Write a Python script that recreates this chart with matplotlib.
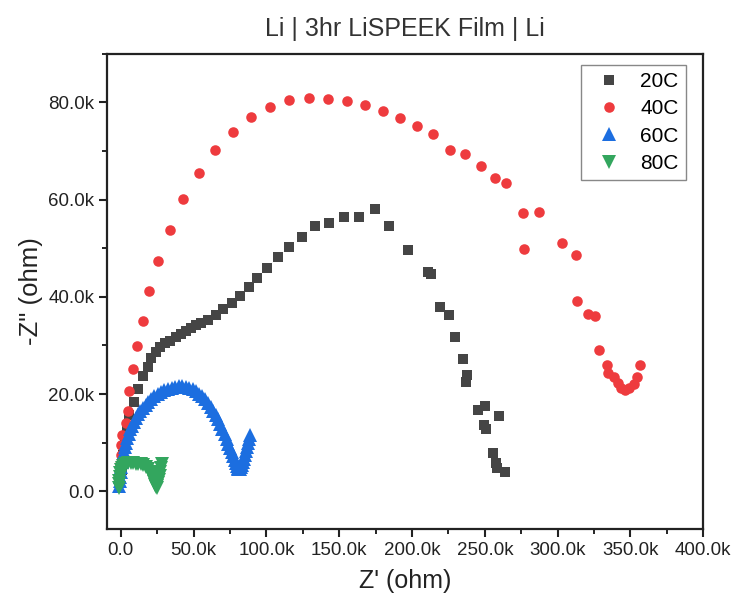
"""Nyquist plot of Li | 3hr LiSPEEK Film | Li at four temperatures."""

import matplotlib

matplotlib.use("Agg")
import matplotlib.pyplot as plt
from matplotlib.ticker import FuncFormatter, MultipleLocator

plt.rcParams["font.family"] = ["Liberation Sans", "DejaVu Sans"]

# values in kilo-ohm
z_re_20c = [0.8, 1.5, 2.9, 4.3, 5.9, 8.7, 12.0, 15.5, 18.4, 20.4, 23.9, 27.0, 30.4,
            33.9, 37.8, 41.1, 44.5, 48.0, 51.8, 55.2, 60.2, 65.5, 70.5, 76.3, 81.7,
            87.8, 93.5, 100.4, 107.7, 115.8, 124.5, 133.2, 142.8, 153.6, 163.9,
            174.3, 184.2, 197.5, 210.9, 212.8, 219.2, 225.7, 229.5, 235.3, 238.1,
            236.9, 245.4, 250.0, 259.8, 249.5, 251.1, 255.3, 257.5, 258.2, 263.9]
z_im_20c = [4.4, 7.5, 10.6, 13.1, 15.7, 18.4, 21.1, 23.7, 25.6, 27.5, 28.6, 29.6, 30.4,
            31.0, 31.7, 32.4, 33.0, 33.5, 34.2, 34.7, 35.3, 36.3, 37.4, 38.7, 40.1,
            42.0, 43.9, 46.0, 48.1, 50.2, 52.4, 54.6, 55.2, 56.4, 56.4,
            58.1, 54.5, 49.6, 45.2, 44.6, 38.0, 36.3, 31.7, 27.3, 23.9,
            22.4, 16.8, 17.5, 15.4, 13.7, 12.8, 7.9, 5.8, 4.8, 3.9]

z_re_40c = [-0.5, -0.2, 0.1, 1.0, 3.6, 5.2, 5.9, 8.2, 10.9, 15.1, 19.6, 25.8, 33.7,
            43.0, 53.7, 64.6, 77.0, 89.5, 102.6, 115.8, 129.2, 142.6, 155.1, 167.7,
            179.9, 192.0, 203.4, 214.7, 226.4, 236.7, 247.4, 257.1, 264.6, 275.9,
            287.0, 276.8, 302.8, 312.6, 313.5, 321.1, 325.8, 328.6, 333.9, 334.4,
            339.0, 341.3, 343.6, 346.3, 349.3, 352.3, 354.6, 356.9]
z_im_40c = [5.5, 7.5, 9.6, 11.5, 14.0, 16.6, 20.6, 25.1, 29.9, 35.1, 41.1, 47.4, 53.7,
            60.1, 65.5, 70.1, 73.9, 76.9, 79.0, 80.4, 80.9, 80.7, 80.2, 79.4,
            78.2, 76.7, 75.1, 73.4, 70.3, 69.3, 67.0, 64.4, 63.4, 57.2,
            57.4, 49.9, 51.1, 48.5, 39.2, 36.4, 36.1, 29.1, 26.0, 24.3,
            23.5, 22.3, 21.2, 20.9, 21.2, 22.1, 23.4, 25.9]

z_re_60c = [-1.0, -0.7, -0.4, 0.0, 0.4, 0.9, 1.4, 2.0, 2.7, 3.5, 4.4, 5.4, 6.5, 7.7,
            9.0, 10.4, 11.9, 13.5, 15.2, 17.0, 18.9, 20.9, 23.0, 25.2, 27.5, 29.9,
            32.3, 34.8, 37.3, 39.8, 42.3, 44.7, 47.1, 49.4, 51.6, 53.8, 55.9, 57.9,
            59.8, 61.6, 63.4, 65.1, 66.7, 68.3, 69.8, 71.2, 72.6, 73.9, 75.1, 76.2,
            77.2, 78.1, 78.9, 79.6, 80.2, 80.8, 81.4, 82.0, 82.6, 83.2, 83.8, 84.5,
            85.2, 85.9, 86.6, 87.3, 88.0, 88.7]
z_im_60c = [1.0, 2.0, 3.0, 4.0, 5.0, 6.0, 7.0, 8.0, 9.0, 10.0, 10.9, 11.8, 12.7, 13.5,
            14.3, 15.1, 15.8, 16.5, 17.2, 17.8, 18.4, 19.0, 19.5, 20.0, 20.4, 20.8,
            21.1, 21.3, 21.5, 21.6, 21.6, 21.5, 21.3, 21.0, 20.6, 20.1, 19.5, 18.9,
            18.2, 17.4, 16.6, 15.7, 14.8, 13.8, 12.8, 11.8, 10.8, 9.8, 8.9, 8.0,
            7.2, 6.4, 5.8, 5.2, 4.8, 4.6, 4.5, 4.6, 4.9, 5.4, 6.0, 6.7,
            7.5, 8.3, 9.1, 9.9, 10.7, 11.5]

z_re_80c = [-1.5, -1.3, -1.0, -0.7, -0.3, 0.2, 0.8, 1.6, 2.6, 3.8, 5.2, 6.8, 8.5, 10.2,
            12.0, 13.8, 15.5, 17.2, 18.7, 20.0, 21.1, 22.0, 22.8, 23.5, 24.1, 24.6,
            25.1, 25.6, 26.1, 26.6, 27.1, 27.6, 28.0]
z_im_80c = [0.6, 1.4, 2.2, 3.0, 3.7, 4.3, 4.8, 5.2, 5.5, 5.7, 5.8, 5.8, 5.8, 5.7,
            5.6, 5.5, 5.3, 5.0, 4.5, 3.9, 3.2, 2.5, 1.8, 1.2, 0.8, 0.7,
            1.1, 1.7, 2.4, 3.2, 4.0, 4.8, 5.6]

SERIES = (
    ("20C", z_re_20c, z_im_20c, "s", "#454545", 6.6),
    ("40C", z_re_40c, z_im_40c, "o", "#ee3b3e", 7.6),
    ("60C", z_re_60c, z_im_60c, "^", "#1c6ee0", 9.4),
    ("80C", z_re_80c, z_im_80c, "v", "#33a65e", 9.4),
)


def k_label(value, _pos):
    if abs(value) < 1e-9:
        return "0.0"
    return f"{value / 1000:.1f}k"


fig = plt.figure(figsize=(7.41, 6.11), dpi=100)
ax = fig.add_axes([0.145, 0.134, 0.804, 0.778])

for label, xs, ys, marker, color, size in SERIES:
    ax.plot([v * 1000 for v in xs], [v * 1000 for v in ys], linestyle="none",
            marker=marker, markersize=size, color=color, markeredgewidth=0,
            label=label)

ax.set_xlim(-9200, 400000)
ax.set_ylim(-7800, 90000)
ax.xaxis.set_major_locator(MultipleLocator(50000))
ax.xaxis.set_minor_locator(MultipleLocator(25000))
ax.yaxis.set_major_locator(MultipleLocator(20000))
ax.yaxis.set_minor_locator(MultipleLocator(10000))
ax.xaxis.set_major_formatter(FuncFormatter(k_label))
ax.yaxis.set_major_formatter(FuncFormatter(k_label))
ax.tick_params(which="major", direction="out", length=6, width=1.5,
               labelsize=13.5, colors="#222222")
ax.tick_params(which="minor", direction="out", length=3.5, width=1.2)
ax.tick_params(top=False, right=False, which="both")
for spine in ax.spines.values():
    spine.set_linewidth(1.6)
    spine.set_color("#222222")

ax.set_xlabel("Z' (ohm)", fontsize=18, labelpad=7, color="#222222")
ax.set_ylabel('-Z" (ohm)', fontsize=18.5, labelpad=4, color="#222222")
ax.set_title("Li | 3hr LiSPEEK Film | Li", fontsize=18, pad=13, color="#333333")

ax.legend(loc="upper right", bbox_to_anchor=(0.971, 0.977), borderaxespad=0,
          fontsize=15, handletextpad=0.5, labelspacing=0.4, fancybox=False,
          edgecolor="#888888", framealpha=1, borderpad=0.35)

fig.savefig("out.png", dpi=100)
